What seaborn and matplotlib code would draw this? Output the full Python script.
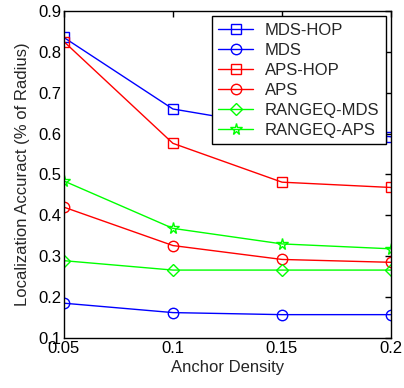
import matplotlib
matplotlib.use("Agg")
import matplotlib.pyplot as plt
import seaborn as sns
import pandas as pd

density = [0.05, 0.1, 0.15, 0.2]
mds_hop = [0.835, 0.660, 0.615, 0.592]
mds = [0.185, 0.162, 0.157, 0.157]
aps_hop = [0.825, 0.576, 0.481, 0.468]
aps = [0.420, 0.326, 0.292, 0.285]
rangeq_mds = [0.289, 0.266, 0.266, 0.266]
rangeq_aps = [0.484, 0.368, 0.330, 0.318]

series_names = ["MDS-HOP", "MDS", "APS-HOP", "APS", "RANGEQ-MDS", "RANGEQ-APS"]
series_vals = [mds_hop, mds, aps_hop, aps, rangeq_mds, rangeq_aps]
colors = ["#0000ff", "#0000ff", "#ff0000", "#ff0000", "#00ff00", "#00ff00"]
markers = ["s", "o", "s", "o", "D", "*"]
msizes = [7.5, 7.5, 7.5, 7.5, 6.5, 8.5]

sns.set_style("white")
plt.rcParams["font.family"] = ["Liberation Sans", "DejaVu Sans"]
plt.rcParams["font.size"] = 12

fig = plt.figure(figsize=(4.04, 3.88), dpi=100)
ax = fig.add_axes([0.158, 0.129, 0.81, 0.843])

for name, vals, c, m, ms in zip(series_names, series_vals, colors, markers, msizes):
    df = pd.DataFrame({"x": density, "y": vals})
    sns.lineplot(data=df, x="x", y="y", ax=ax, color=c, marker=m, markersize=ms,
                 markerfacecolor="none", markeredgecolor=c, markeredgewidth=1.0,
                 linewidth=1.0, label=name)

ax.set_xlim(0.05, 0.2)
ax.set_ylim(0.1, 0.9)
ax.set_xticks(density)
ax.set_xticklabels(["0.05", "0.1", "0.15", "0.2"])
yt = [0.1, 0.2, 0.3, 0.4, 0.5, 0.6, 0.7, 0.8, 0.9]
ax.set_yticks(yt)
ax.set_yticklabels([f"{v:.1f}" for v in yt])
ax.tick_params(direction="in", length=4, width=1, top=True, right=True,
               labelsize=12, colors="black", pad=2)
ax.set_xlabel("Anchor Density", fontsize=12, labelpad=3)
ax.set_ylabel("Localization Accuract (% of Radius)", fontsize=12, labelpad=6)
for sp in ax.spines.values():
    sp.set_color("black")
    sp.set_linewidth(1.0)
    sp.set_visible(True)

leg = ax.legend(loc="upper right", frameon=True, fancybox=False, fontsize=12,
                edgecolor="black", framealpha=1, borderpad=0.4, labelspacing=0.3,
                handlelength=2.1, handletextpad=0.7, borderaxespad=0.3)
leg.get_frame().set_linewidth(1.0)

fig.savefig("out.png", dpi=100)
